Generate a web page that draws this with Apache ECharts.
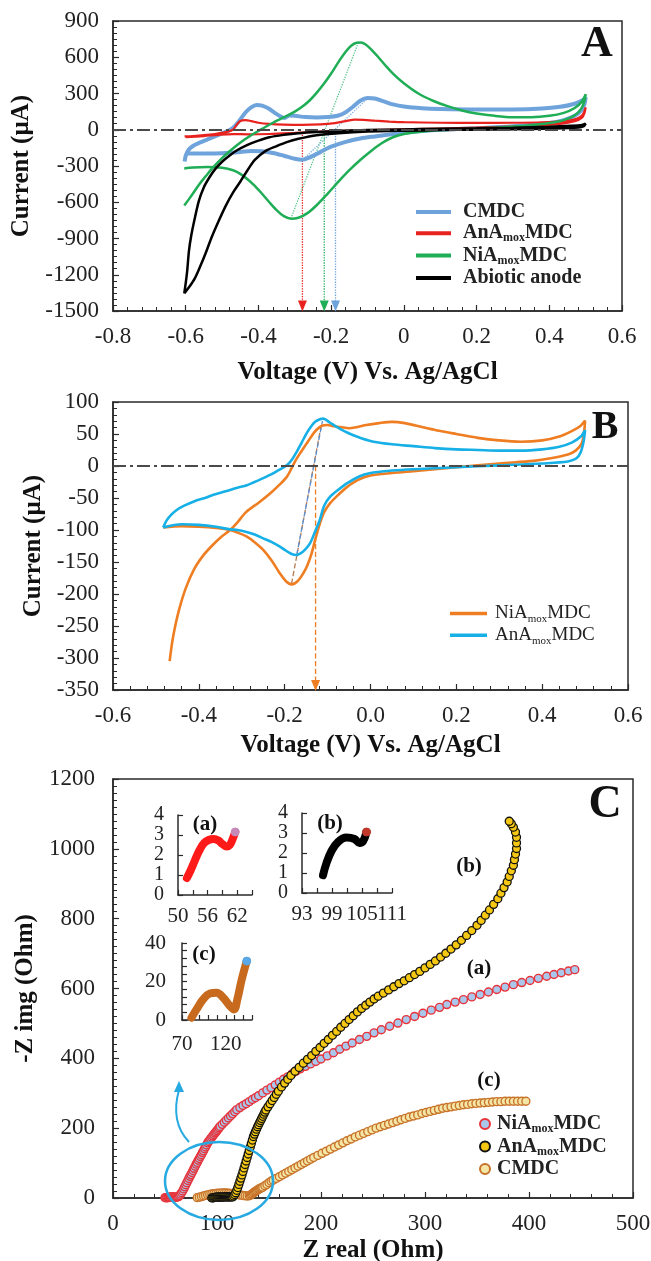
<!DOCTYPE html>
<html>
<head>
<meta charset="utf-8">
<title>CV and EIS of MDC anodes</title>
<script src="https://cdn.jsdelivr.net/npm/echarts/dist/echarts.min.js"></script>
<style>
  html, body { margin: 0; padding: 0; background: #fff; }
  #chart { width: 651px; height: 1261px; }
</style>
</head>
<body>
<div id="chart"></div>
<script>
// axis ranges: [min, max, interval]
const voltRangeA = [-0.8, 0.6, 0.2];
const currRangeA = [-1500, 900, 300];
const voltRangeB = [-0.6, 0.6, 0.2];
const currRangeB = [-350, 100, 50];
const zRealRange = [0, 500, 100];
const zImgRange = [0, 1200, 200];
const insetAX = [50, 65, 3], insetAY = [0, 4, 1];
const insetBX = [93, 111, 3], insetBY = [0, 4, 1];
const insetCX = [70, 150, 10], insetCY = [0, 40, 4];

// Panel A – cyclic voltammograms [V, uA]
const cvCMDC = [[-0.603,-262],[-0.600,-215],[-0.592,-165],[-0.578,-130],[-0.560,-105],[-0.540,-80],[-0.520,-55],[-0.500,-30],[-0.480,-5],[-0.465,30],[-0.450,85],[-0.435,145],[-0.420,185],[-0.405,205],[-0.390,200],[-0.372,175],[-0.355,140],[-0.340,112],[-0.328,98],[-0.315,118],[-0.300,115],[-0.270,105],[-0.240,102],[-0.210,105],[-0.180,118],[-0.160,145],[-0.140,190],[-0.120,240],[-0.100,262],[-0.080,258],[-0.055,235],[-0.030,210],[0.000,192],[0.050,178],[0.100,172],[0.200,168],[0.300,168],[0.380,175],[0.430,190],[0.470,215],[0.495,250],[0.500,268],
  [0.497,215],[0.488,160],[0.470,115],[0.440,80],[0.400,55],[0.300,28],[0.200,12],[0.100,0],[0.050,-10],[0.000,-25],[-0.040,-40],[-0.080,-55],[-0.120,-72],[-0.160,-100],[-0.200,-140],[-0.230,-185],[-0.260,-230],[-0.280,-248],[-0.300,-240],[-0.330,-215],[-0.360,-192],[-0.390,-178],[-0.420,-175],[-0.450,-185],[-0.500,-195],[-0.550,-197],[-0.600,-197]];
const cvAnA = [[-0.603,-55],[-0.580,-52],[-0.550,-45],[-0.520,-35],[-0.490,-20],[-0.470,0],[-0.460,40],[-0.450,72],[-0.435,80],[-0.420,72],[-0.400,58],[-0.370,48],[-0.330,42],[-0.280,40],[-0.230,44],[-0.190,55],[-0.160,72],[-0.135,84],[-0.110,82],[-0.080,75],[-0.040,68],[0.000,63],[0.100,58],[0.200,57],[0.300,58],[0.380,62],[0.440,72],[0.475,90],[0.492,125],[0.500,185],
  [0.497,140],[0.490,100],[0.470,70],[0.430,48],[0.350,32],[0.250,22],[0.150,14],[0.050,7],[-0.050,0],[-0.150,-8],[-0.230,-16],[-0.300,-26],[-0.370,-35],[-0.430,-38],[-0.470,-36],[-0.510,-42],[-0.550,-52],[-0.600,-62]];
const cvNiA = [[-0.604,-626],[-0.590,-570],[-0.575,-505],[-0.560,-440],[-0.545,-385],[-0.530,-330],[-0.515,-280],[-0.500,-235],[-0.480,-180],[-0.460,-130],[-0.440,-85],[-0.420,-45],[-0.400,-10],[-0.380,25],[-0.360,58],[-0.340,88],[-0.320,118],[-0.300,150],[-0.280,190],[-0.260,240],[-0.240,305],[-0.220,380],[-0.200,465],[-0.180,560],[-0.160,645],[-0.145,695],[-0.130,720],[-0.118,722],[-0.105,705],[-0.090,665],[-0.070,600],[-0.050,530],[-0.030,465],[0.000,385],[0.040,300],[0.080,240],[0.120,195],[0.160,160],[0.200,135],[0.250,115],[0.300,104],[0.350,104],[0.400,115],[0.440,140],[0.470,180],[0.490,235],[0.500,295],
  [0.497,240],[0.488,175],[0.470,120],[0.440,80],[0.400,55],[0.350,38],[0.300,26],[0.200,10],[0.100,-3],[0.040,-18],[0.000,-35],[-0.030,-62],[-0.060,-110],[-0.090,-175],[-0.120,-250],[-0.150,-335],[-0.180,-430],[-0.210,-530],[-0.240,-625],[-0.265,-690],[-0.290,-728],[-0.310,-736],[-0.330,-715],[-0.350,-665],[-0.370,-600],[-0.390,-530],[-0.410,-465],[-0.430,-410],[-0.450,-365],[-0.470,-335],[-0.500,-315],[-0.540,-308],[-0.580,-312],[-0.604,-320]];
const cvAbiotic = [[-0.604,-1354],[-0.600,-1270],[-0.596,-1170],[-0.591,-1000],[-0.585,-880],[-0.577,-760],[-0.564,-590],[-0.550,-475],[-0.535,-395],[-0.520,-330],[-0.500,-265],[-0.480,-215],[-0.460,-172],[-0.430,-125],[-0.400,-90],[-0.370,-62],[-0.330,-42],[-0.290,-28],[-0.240,-18],[-0.180,-10],[-0.100,-3],[0.000,3],[0.100,8],[0.200,12],[0.300,17],[0.400,25],[0.460,33],[0.490,40],[0.500,50],
  [0.495,30],[0.480,18],[0.400,10],[0.300,5],[0.200,1],[0.100,-3],[0.000,-8],[-0.100,-15],[-0.180,-28],[-0.240,-45],[-0.290,-75],[-0.320,-100],[-0.350,-135],[-0.380,-175],[-0.410,-250],[-0.430,-335],[-0.450,-430],[-0.470,-520],[-0.490,-630],[-0.510,-760],[-0.530,-900],[-0.545,-1020],[-0.560,-1130],[-0.575,-1230],[-0.590,-1300],[-0.604,-1354]];
// peak-to-peak guides and midpoint potentials (red, green, blue)
const guideNiA_A = [[-0.311,-736],[-0.125,722]];
const guideCMDC_A = [[-0.277,-245],[-0.100,258]];
const midPotA = [-0.279, -0.219, -0.188];

// Panel B
const cvNiA_B = [[-0.468,-305],[-0.462,-275],[-0.455,-250],[-0.445,-222],[-0.430,-190],[-0.410,-160],[-0.390,-140],[-0.370,-125],[-0.350,-112],[-0.327,-100],[-0.310,-88],[-0.290,-72],[-0.260,-57],[-0.234,-43],[-0.210,-28],[-0.195,-17],[-0.185,-5],[-0.176,7],[-0.162,22],[-0.149,35],[-0.137,47],[-0.125,57],[-0.113,63],[-0.100,64],[-0.085,62],[-0.070,61],[-0.050,59],[-0.030,61],[-0.010,64],[0.020,67],[0.050,69],[0.080,67],[0.120,61],[0.160,55],[0.200,50],[0.250,44],[0.300,40],[0.350,38],[0.400,40],[0.440,46],[0.470,55],[0.490,63],[0.500,71],
  [0.498,55],[0.492,35],[0.478,24],[0.460,18],[0.420,12],[0.380,8],[0.300,4],[0.200,-2],[0.100,-8],[0.050,-11],[0.000,-15],[-0.030,-22],[-0.055,-33],[-0.075,-45],[-0.094,-58],[-0.108,-72],[-0.118,-90],[-0.128,-113],[-0.137,-136],[-0.147,-155],[-0.157,-168],[-0.170,-180],[-0.184,-185],[-0.197,-180],[-0.211,-168],[-0.230,-148],[-0.250,-131],[-0.270,-119],[-0.289,-110],[-0.310,-104],[-0.327,-100],[-0.360,-97],[-0.400,-95],[-0.440,-94],[-0.483,-96]];
const cvAnA_B = [[-0.483,-96],[-0.475,-85],[-0.464,-76],[-0.450,-68],[-0.434,-62],[-0.410,-55],[-0.386,-50],[-0.366,-45],[-0.340,-40],[-0.310,-34],[-0.288,-30],[-0.260,-22],[-0.234,-14],[-0.213,-6],[-0.195,1],[-0.182,11],[-0.172,22],[-0.160,37],[-0.149,51],[-0.138,62],[-0.129,69],[-0.118,73],[-0.110,74],[-0.095,68],[-0.079,61],[-0.060,54],[-0.040,48],[-0.020,43],[0.007,38],[0.050,34],[0.100,31],[0.150,28],[0.200,26],[0.250,25],[0.300,24],[0.350,24],[0.400,26],[0.440,30],[0.470,37],[0.490,46],[0.500,56],
  [0.497,40],[0.490,22],[0.480,12],[0.460,7],[0.400,4],[0.300,1],[0.200,-2],[0.100,-5],[0.050,-7],[0.022,-9],[0.000,-11],[-0.025,-16],[-0.055,-27],[-0.075,-37],[-0.094,-48],[-0.108,-62],[-0.118,-84],[-0.130,-104],[-0.141,-121],[-0.153,-131],[-0.164,-137],[-0.172,-139],[-0.185,-137],[-0.200,-131],[-0.211,-126],[-0.230,-119],[-0.250,-113],[-0.270,-107],[-0.289,-103],[-0.310,-100],[-0.327,-99],[-0.360,-95],[-0.400,-92],[-0.440,-91],[-0.483,-96]];
const guideNiA_B = [[-0.184,-184],[-0.115,63]];
const guideAnA_B = [[-0.172,-139],[-0.112,70]];
const midPotB = -0.128;

// Panel C – Nyquist [Z real, -Z img] (Ohm)
const eisNiA = [[50,1],[51,0.6],[52,0.9],[53,1.5],[54,2],[55,2.5],[56,2.7],[57,2.8],[58,2.7],[59,2.5],[60,2.4],[61,2.6],[62,3.2],[63,4],[64,7],[65,11],[66,15],[67,20],[68,26],[69,32],[70,38],[71,44],[72,50],[73,56],[74,62],[75,67],[76,73],[77,79],[78,85],[79,91],[80,97],[81,102],[82,108],[83,113],[84,119],[85,124],[86,130],[87,135],[88,141],[89,146],[90,152],[91,158],[92,162],[93,166],[94,170],[95,174],[96,178],[97,182],[98,186],[99,189],[100,193],[101,197],[102,201],[103,205],[105,211],[107,217],[109,223],[111,229],[113,235],[115,241],[117,247],[119,253],[122,259],[125,265],[128,270],[131,276],[134,282],[137,287],[140,293],[144,301],[148,309],[152,316],[156,324],[160,332],[164,340],[168,347],[172,355],[176,363],[180,370],[185,377],[190,384],[195,391],[200,398],[206,407],[212,416],[218,426],[224,435],[230,444],[237,454],[244,463],[251,473],[258,482],[266,492],[274,501],[282,511],[290,520],[298,529],[306,538],[314,546],[321,554],[329,561],[337,568],[345,576],[353,583],[361,590],[369,597],[377,604],[385,611],[393,617],[401,623],[409,629],[417,635],[424,640],[431,645],[438,650],[444,654]];
const eisAnA = [[95,0.3],[96,0.5],[97,0.9],[98,1.7],[99,2.2],[100,2.5],[101,2.7],[102,2.8],[103,2.7],[104,2.6],[105,2.6],[106,3],[107,3],[108,3],[109,3],[110,3],[111,3],[112,3],[113,3],[114,3],[115,3],[116,6],[117,10],[118,15],[119,22],[120,30],[121,39],[122,48],[123,57],[124,66],[125,76],[126,86],[127,96],[128,106],[129,116],[130,126],[131,136],[132,146],[133,156],[134,166],[135,176],[136,183],[137,190],[138,197],[139,204],[140,210],[141,216],[142,222],[143,228],[144,234],[145,240],[146,246],[147,252],[149,261],[151,270],[153,279],[155,288],[157,297],[159,306],[162,318],[165,329],[168,340],[171,351],[175,363],[179,374],[183,386],[187,397],[191,408],[195,420],[199,431],[203,443],[207,454],[211,466],[215,477],[219,489],[223,500],[227,511],[231,522],[235,533],[239,543],[243,552],[247,561],[251,570],[255,578],[260,587],[265,596],[270,605],[275,614],[280,622],[285,631],[290,640],[295,649],[300,659],[305,669],[310,679],[315,690],[320,701],[325,713],[330,725],[335,738],[340,752],[345,766],[350,781],[354,795],[358,810],[362,825],[366,841],[370,857],[373,873],[376,889],[379,905],[381,921],[383,937],[385,953],[386,969],[387,985],[388,1001],[388,1017],[388,1033],[387,1048],[385,1062],[383,1072],[381,1079]];
const eisCMDC = [[81,1],[83,2.5],[85,4],[87,5.8],[89,7.5],[91,9],[93,10.3],[95,11.3],[97,12.3],[99,13],[101,13.6],[103,14],[105,14.2],[107,14.3],[109,14.2],[111,13.8],[113,13.2],[115,12.3],[117,11.4],[119,10.3],[121,9.2],[123,8.1],[125,7.2],[127,6.3],[129,5.7],[131,6.5],[132,8],[133,10],[134,12],[135,14.5],[136,17],[137,19],[138,21],[139,23],[140,25],[141,26.5],[142,28],[143,29.5],[144,31],[146,35],[148,39],[150,44],[152,48],[154,51],[157,56],[160,61],[163,66],[166,71],[169,76],[172,81],[175,86],[178,91],[181,96],[184,101],[187,106],[190,111],[193,116],[197,122],[201,128],[205,134],[209,140],[213,146],[217,152],[221,158],[225,164],[229,169],[233,175],[237,180],[241,185],[245,190],[249,195],[253,200],[257,204],[261,208],[265,212],[269,216],[273,220],[277,224],[281,228],[285,232],[289,235],[293,238],[297,242],[301,245],[305,248],[309,251],[313,254],[317,257],[321,259],[325,261],[329,263],[333,265],[337,267],[341,268],[345,270],[349,271],[353,272],[357,273],[361,274],[365,275],[369,276],[373,276],[377,277],[381,277],[385,277],[389,277],[393,277],[397,277]];
// insets: high-frequency region
const zoomNiA = [[51.8,0.85],[52.5,1.2],[53.2,1.6],[53.8,1.95],[54.5,2.3],[55.3,2.6],[56.2,2.75],[57.2,2.8],[58.2,2.72],[59,2.55],[59.9,2.42],[60.5,2.5],[61,2.75],[61.6,3.15]];
const zoomAnA = [[97.2,0.89],[97.9,1.5],[98.9,2.1],[100.2,2.55],[101.9,2.77],[103.5,2.7],[104.5,2.5],[105.2,2.58],[105.9,3.05]];
const zoomCMDC = [[80.8,1.2],[86.6,5.5],[94.1,10.7],[101.8,13.8],[109.5,14.2],[117.1,11.6],[124.8,7.3],[129.4,5.5],[133.2,10.7],[138.3,21.1],[144,30.6]];

const FONT = "'Liberation Serif', 'Times New Roman', serif";
const INK = '#2a2a2a';

function axis(gridIndex, range, o) {
  return {
    type: 'value', gridIndex: gridIndex,
    min: range[0], max: range[1], interval: range[2],
    name: o.name || '', nameLocation: 'middle', nameGap: o.nameGap || 0,
    nameTextStyle: { color: '#111', fontFamily: FONT, fontSize: 25, fontWeight: 'bold' },
    axisLine: { show: true, onZero: false, lineStyle: { color: INK, width: 1.5 } },
    axisTick: { show: true, inside: true, length: o.tickLen || 6, lineStyle: { color: INK, width: 1.2 } },
    minorTick: { show: !!o.minor, splitNumber: o.minor || 5, length: 4, lineStyle: { color: INK, width: 1 } },
    splitLine: { show: false },
    axisLabel: { color: '#222', fontFamily: FONT, fontSize: o.fontSize || 23, margin: o.margin || 14,
                 lineHeight: o.lineHeight, hideOverlap: false, showMinLabel: true, showMaxLabel: true,
                 formatter: o.fmt || (v => String(v)) },
  };
}

function line(name, data, color, width, idx) {
  return { name: name, type: 'line', data: data, xAxisIndex: idx, yAxisIndex: idx,
    smooth: 0.3, symbol: 'none', lineStyle: { color: color, width: width },
    itemStyle: { color: color }, z: 3 };
}

function guide(data, color, type, idx) {
  return { type: 'line', data: data, xAxisIndex: idx, yAxisIndex: idx, symbol: 'none', silent: true,
    lineStyle: { color: color, width: 1.3, type: type }, z: 2 };
}

function drop(x, yTop, yEnd, color, type, idx) {
  return { type: 'line', xAxisIndex: idx, yAxisIndex: idx, silent: true, symbol: 'none', showSymbol: true,
    data: [[x, yTop], { value: [x, yEnd], symbol: 'triangle', symbolRotate: 180, symbolSize: [9, 11],
      itemStyle: { color: color } }],
    lineStyle: { color: color, width: 1.3, type: type }, z: 2 };
}

function zeroLine() {
  return { silent: true, symbol: ['none', 'none'], label: { show: false },
    lineStyle: { color: '#4a4a4a', width: 1.8, type: [13, 4, 3, 4] }, data: [{ yAxis: 0 }] };
}

function richFor(size, weight, gap) {
  return {
    g: { width: gap },
    n: { fontFamily: FONT, fontSize: size, fontWeight: weight, color: '#222', lineHeight: 22 },
    s: { fontFamily: FONT, fontSize: Math.round(size * 0.6), fontWeight: weight, color: '#222',
         verticalAlign: 'bottom' }
  };
}

const legendText = {
  'A-CMDC': '{g| }{n|CMDC}',
  'A-AnA': '{g| }{n|AnA}{s|mox}{n|MDC}',
  'A-NiA': '{g| }{n|NiA}{s|mox}{n|MDC}',
  'A-Abi': '{g| }{n|Abiotic anode}',
  'B-NiA': '{g| }{n|NiA}{s|mox}{n|MDC}',
  'B-AnA': '{g| }{n|AnA}{s|mox}{n|MDC}',
  'C-NiA': '{g| }{n|NiA}{s|mox}{n|MDC}',
  'C-AnA': '{g| }{n|AnA}{s|mox}{n|MDC}',
  'C-CMDC': '{g| }{n|CMDC}'
};

function endDot(data, color) {
  const pts = data.slice(0, -1);
  pts.push({ value: data[data.length - 1], symbol: 'circle', symbolSize: 8,
             itemStyle: { color: color, borderColor: color } });
  return pts;
}

function inset(name, data, color, dot, idx) {
  return { name: name, type: 'line', data: endDot(data, dot), xAxisIndex: idx, yAxisIndex: idx,
    smooth: 0.4, symbol: 'none', showSymbol: true, lineStyle: { color: color, width: 8, cap: 'round' },
    itemStyle: { color: color }, z: 5 };
}

function text(x, y, str, size, weight) {
  return { type: 'text', x: x, y: y, z: 50, style: { text: str, fontFamily: FONT, fontSize: size,
    fontWeight: weight || 'bold', fill: '#111', align: 'center', verticalAlign: 'middle',
    textAlign: 'center', textVerticalAlign: 'middle' } };
}

const chart = echarts.init(document.getElementById('chart'), null, { renderer: 'canvas' });
const frame = { show: true, borderColor: INK, borderWidth: 1.5, backgroundColor: 'transparent',
                containLabel: false, outerBoundsMode: 'none' };
const bare = { show: false, containLabel: false, outerBoundsMode: 'none' };
const fmtB = v => v.toFixed(1);
const every = (start, step) => v => (Math.round(v - start) % step === 0 ? String(v) : '');

const option = {
  backgroundColor: '#fff',
  animation: false,
  grid: [
    Object.assign({ left: 113, top: 21, width: 509, height: 290 }, frame),
    Object.assign({ left: 113, top: 402, width: 515, height: 288 }, frame),
    Object.assign({ left: 113, top: 779, width: 520, height: 419 }, frame),
    Object.assign({ left: 178, top: 815, width: 74, height: 80 }, bare),
    Object.assign({ left: 302, top: 813, width: 90, height: 80 }, bare),
    Object.assign({ left: 182, top: 943, width: 70, height: 77 }, bare)
  ],
  xAxis: [
    axis(0, voltRangeA, { name: 'Voltage (V) Vs. Ag/AgCl', nameGap: 49, minor: 5 }),
    axis(1, voltRangeB, { name: 'Voltage (V) Vs. Ag/AgCl', nameGap: 43, minor: 5, fmt: fmtB }),
    axis(2, zRealRange, { name: 'Z real (Ohm)', nameGap: 40, minor: 5 }),
    axis(3, insetAX, { fontSize: 21, margin: 11, fmt: every(50, 6), tickLen: 5 }),
    axis(4, insetBX, { fontSize: 21, margin: 11, fmt: every(93, 6), tickLen: 5 }),
    axis(5, insetCX, { fontSize: 21, margin: 14, fmt: every(70, 50), tickLen: 5 })
  ],
  yAxis: [
    axis(0, currRangeA, { name: 'Current (\u00b5A)', nameGap: 78, minor: 6 }),
    axis(1, currRangeB, { name: 'Current (\u00b5A)', nameGap: 65, minor: 5 }),
    axis(2, zImgRange, { name: '-Z img (Ohm)', nameGap: 56, minor: 10, margin: 18 }),
    axis(3, insetAY, { fontSize: 20, lineHeight: 10, margin: 14, tickLen: 5 }),
    axis(4, insetBY, { fontSize: 20, lineHeight: 10, margin: 14, tickLen: 5 }),
    axis(5, insetCY, { fontSize: 21, margin: 16, fmt: every(0, 20), tickLen: 5 })
  ],
  legend: [
    { data: ['A-CMDC', 'A-AnA', 'A-NiA', 'A-Abi'], orient: 'vertical', left: 416, top: 202, padding: 0,
      itemGap: 1.3, itemWidth: 35, itemHeight: 4, icon: 'rect', selectedMode: false,
      formatter: n => legendText[n], textStyle: { rich: richFor(20, 'bold', 7) } },
    { data: ['B-NiA', 'B-AnA'], orient: 'vertical', left: 450, top: 604, padding: 0,
      itemGap: 1.3, itemWidth: 37, itemHeight: 3.5, icon: 'rect', selectedMode: false,
      formatter: n => legendText[n], textStyle: { rich: richFor(19, 'normal', 3) } },
    { data: ['C-NiA', 'C-AnA', 'C-CMDC'], orient: 'vertical', left: 479, top: 1114, padding: 0,
      itemGap: 1.5, itemWidth: 10, itemHeight: 10, selectedMode: false,
      formatter: n => legendText[n], textStyle: { rich: richFor(20, 'bold', 2) } }
  ],
  series: [
    // panel A
    Object.assign(line('A-CMDC', cvCMDC, '#6fa3db', 4, 0), { markLine: zeroLine() }),
    line('A-AnA', cvAnA, '#e8231f', 2.2, 0),
    line('A-NiA', cvNiA, '#1fad55', 2.5, 0),
    line('A-Abi', cvAbiotic, '#000000', 2.5, 0),
    guide(guideNiA_A, '#57c58c', 'dotted', 0),
    guide(guideCMDC_A, '#7fb3e3', 'dotted', 0),
    drop(midPotA[0], -20, -1458, '#e8231f', 'dotted', 0),
    drop(midPotA[1], 0, -1458, '#1fad55', 'dotted', 0),
    drop(midPotA[2], -30, -1458, '#6fa3db', 'dotted', 0),
    // panel B
    Object.assign(line('B-NiA', cvNiA_B, '#ef7d22', 2.6, 1), { markLine: zeroLine() }),
    line('B-AnA', cvAnA_B, '#16b0e6', 2.6, 1),
    guide(guideNiA_B, '#b57a4e', 'dashed', 1),
    guide(guideAnA_B, '#5b8fd0', 'dashed', 1),
    drop(midPotB, 0, -343, '#ef7d22', 'dashed', 1),
    // panel C
    { name: 'C-CMDC', type: 'scatter', xAxisIndex: 2, yAxisIndex: 2, data: eisCMDC, symbol: 'circle',
      symbolSize: 8, itemStyle: { color: '#f4e6a6', borderColor: '#c8732a', borderWidth: 1.4, opacity: 1 }, z: 3 },
    { name: 'C-NiA', type: 'scatter', xAxisIndex: 2, yAxisIndex: 2, data: eisNiA, symbol: 'circle',
      symbolSize: 8, itemStyle: { color: '#a9c8ec', borderColor: '#e8333a', borderWidth: 1.4, opacity: 1 }, z: 3 },
    { name: 'C-AnA', type: 'scatter', xAxisIndex: 2, yAxisIndex: 2, data: eisAnA, symbol: 'circle',
      symbolSize: 8, itemStyle: { color: '#f5c814', borderColor: '#111', borderWidth: 1.3, opacity: 1 }, z: 4 },
    inset('ins-a', zoomNiA, '#ff1a1a', '#c58ab8', 3),
    inset('ins-b', zoomAnA, '#000000', '#c0392b', 4),
    inset('ins-c', zoomCMDC, '#c86a1e', '#5aa8e6', 5)
  ],
  graphic: [
    text(597, 45, 'A', 44),
    text(605, 428, 'B', 40),
    text(605, 805, 'C', 46),
    text(469, 867, '(b)', 21),
    text(479, 969, '(a)', 21),
    text(489, 1081, '(c)', 21),
    text(205, 825, '(a)', 21),
    text(330, 824, '(b)', 21),
    text(204, 955, '(c)', 21),
    { type: 'ellipse', z: 40, shape: { cx: 219, cy: 1181, rx: 54, ry: 39 },
      style: { fill: 'none', stroke: '#27a9e1', lineWidth: 2.5 } },
    { type: 'bezierCurve', z: 40, shape: { x1: 189, y1: 1142, x2: 179, y2: 1090, cpx1: 170, cpy1: 1122 },
      style: { fill: 'none', stroke: '#27a9e1', lineWidth: 2 } },
    { type: 'polygon', z: 40, shape: { points: [[179, 1081], [174, 1092], [184, 1092]] },
      style: { fill: '#27a9e1' } }
  ]
};

chart.setOption(option);
window.addEventListener('resize', chart.resize);
</script>
</body>
</html>
